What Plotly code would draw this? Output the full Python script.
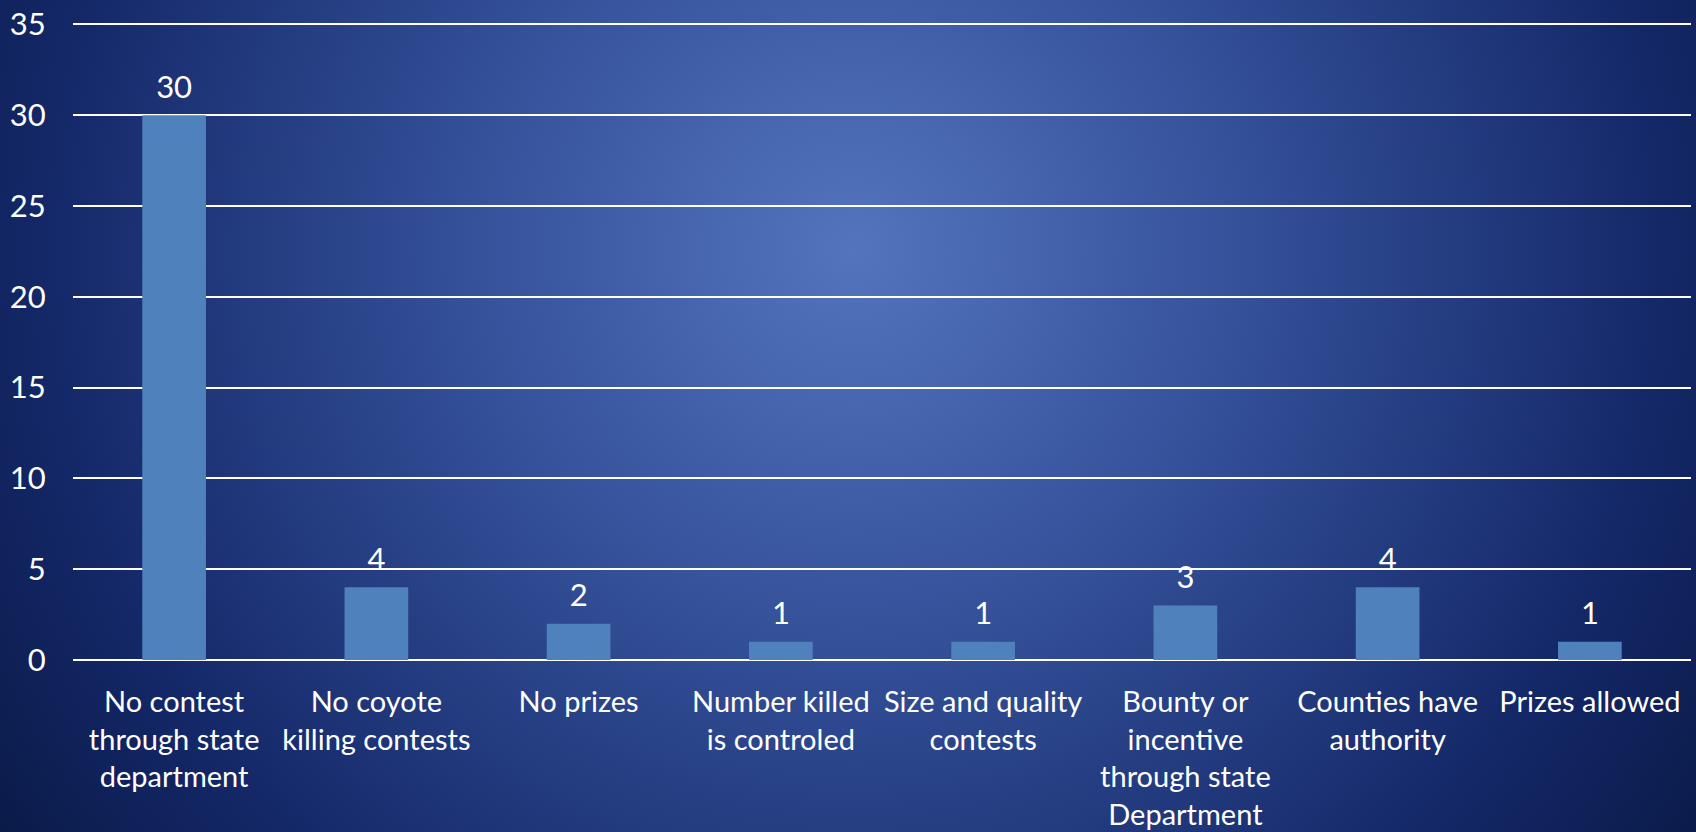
import base64
import plotly.graph_objects as go

categories = [
    "No contest<br>through state<br>department",
    "No coyote<br>killing contests",
    "No prizes",
    "Number killed<br>is controled",
    "Size and quality<br>contests",
    "Bounty or<br>incentive<br>through state<br>Department",
    "Counties have<br>authority",
    "Prizes allowed",
]
values = [30, 4, 2, 1, 1, 3, 4, 1]
y_ticks = [0, 5, 10, 15, 20, 25, 30, 35]

W, H = 1696, 832
L, R, T, B = 73, 5, 23, 172
pw, ph = W - L - R, H - T - B

svg = f'''<svg xmlns="http://www.w3.org/2000/svg" width="{W}" height="{H}" viewBox="0 0 {W} {H}" preserveAspectRatio="none">
<defs><radialGradient id="g" gradientUnits="userSpaceOnUse" cx="854" cy="249" r="1040">
<stop offset="0" stop-color="#5375BE"/>
<stop offset="0.35" stop-color="#36539C"/>
<stop offset="0.78" stop-color="#142868"/>
<stop offset="1" stop-color="#0A1A48"/>
</radialGradient></defs>
<rect width="{W}" height="{H}" fill="url(#g)"/></svg>'''
bg = "data:image/svg+xml;base64," + base64.b64encode(svg.encode()).decode()

FONT = "Lato"

fig = go.Figure()
fig.add_trace(
    go.Bar(
        x=categories,
        y=values,
        marker=dict(color="#4F81BD", line=dict(width=0)),
        hoverinfo="skip",
    )
)
fig.add_trace(
    go.Scatter(
        x=categories,
        y=values,
        mode="markers+text",
        marker=dict(size=14, opacity=0),
        text=[str(v) for v in values],
        textposition="top center",
        textfont=dict(color="white", size=31, family=FONT),
        cliponaxis=False,
        hoverinfo="skip",
    )
)

fig.update_layout(
    width=W,
    height=H,
    margin=dict(l=L, r=R, t=T, b=B, autoexpand=False),
    paper_bgcolor="#0A1A48",
    plot_bgcolor="rgba(0,0,0,0)",
    bargap=0.685,
    showlegend=False,
    font=dict(family=FONT, color="white"),
    images=[
        dict(
            source=bg,
            xref="paper",
            yref="paper",
            x=-L / pw,
            y=1 + T / ph,
            sizex=W / pw,
            sizey=H / ph,
            xanchor="left",
            yanchor="top",
            sizing="stretch",
            layer="below",
        )
    ],
)

fig.update_xaxes(
    showgrid=False,
    showline=False,
    automargin=False,
    ticks="outside",
    ticklen=16,
    tickcolor="rgba(0,0,0,0)",
    tickfont=dict(size=29, color="white", family=FONT),
    tickangle=0,
)
fig.update_yaxes(
    range=[0, 35.08],
    tickvals=y_ticks,
    automargin=False,
    showgrid=True,
    gridcolor="white",
    gridwidth=2,
    zeroline=True,
    zerolinecolor="white",
    zerolinewidth=2,
    ticks="outside",
    ticklen=20,
    tickcolor="rgba(0,0,0,0)",
    tickfont=dict(size=31, color="white", family=FONT),
)

fig.write_html(
    "out.html",
    config={"displayModeBar": False, "staticPlot": True},
    post_script="document.body.style.margin='0';document.body.style.overflow='hidden';",
)
